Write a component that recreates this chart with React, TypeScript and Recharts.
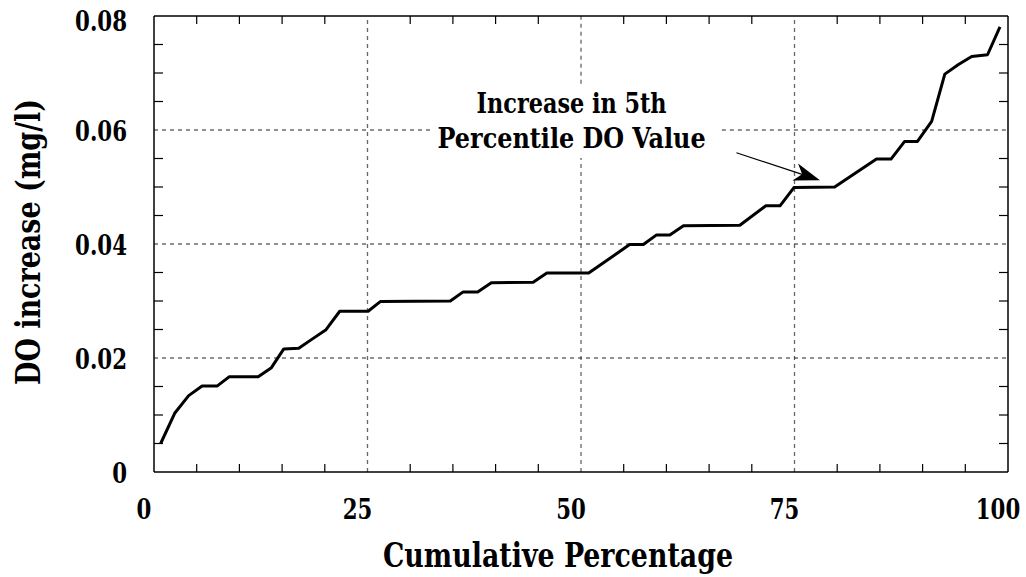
import React from "react";
import {
  LineChart,
  Line,
  XAxis,
  YAxis,
  ReferenceLine,
  ReferenceDot,
} from "recharts";

// ---- data ----
const cumulativePct = [
  0.78, 2.42, 4.06, 5.63, 7.42, 8.79, 12.2, 13.75, 15.2, 16.95, 18.6, 20.1,
  21.75, 25.07, 26.5, 34.7, 36.2, 37.9, 39.5, 44.4, 46.0, 50.9, 55.7, 57.3,
  58.85, 60.4, 62.0, 68.6, 71.65, 73.3, 74.93, 79.7, 84.6, 86.3, 87.9, 89.4,
  91.06, 92.6, 94.2, 95.75, 97.6, 99.06,
];
const doIncrease = [
  0.005, 0.0103, 0.0134, 0.0151, 0.0151, 0.0167, 0.0167, 0.0183, 0.0216,
  0.0217, 0.0234, 0.0249, 0.0282, 0.0282, 0.0299, 0.03, 0.0316, 0.0316,
  0.0332, 0.0333, 0.0349, 0.0349, 0.0399, 0.0399, 0.0416, 0.0416, 0.0432,
  0.0433, 0.0467, 0.0467, 0.0499, 0.05, 0.0549, 0.0549, 0.058, 0.058, 0.0615,
  0.0698, 0.0715, 0.0729, 0.0732, 0.0781,
];

const xTicks = [0, 5, 10, 15, 20, 25, 30, 35, 40, 45, 50, 55, 60, 65, 70, 75, 80, 85, 90, 95, 100];
const yTicks = [
  0, 0.005, 0.01, 0.015, 0.02, 0.025, 0.03, 0.035, 0.04, 0.045, 0.05, 0.055,
  0.06, 0.065, 0.07, 0.075, 0.08,
];
const xTickLabels = [0, 25, 50, 75, 100];
const yTickLabels = [0, 0.02, 0.04, 0.06, 0.08];
const xGrid = [25, 75];
const yGrid = [0.02, 0.04];

const xTitle = "Cumulative Percentage";
const yTitle = "DO increase (mg/l)";
const noteLines = ["Increase in 5th", "Percentile DO Value"];

const chartData = cumulativePct.map((p, i) => ({ pct: p, value: doIncrease[i] }));

const SERIF = "'DejaVu Serif Condensed', 'DejaVu Serif', serif";
const near = (a: number, list: number[]) => list.some((v) => Math.abs(v - a) < 1e-9);
const numWidth = (s: string) =>
  s.split("").reduce((w, c) => w + (c === "." ? 7.5 : 14.8), 0);

const SText = (p: any) => {
  const { x, y, fs, len, anchor, children, transform } = p;
  return (
    <text
      x={x}
      y={y}
      transform={transform}
      textAnchor={anchor || "middle"}
      fontFamily={SERIF}
      fontWeight="bold"
      fontSize={fs}
      textLength={len}
      lengthAdjust="spacingAndGlyphs"
      fill="#000"
    >
      {children}
    </text>
  );
};

const BottomTick = (props: any) => {
  const { x, y, payload } = props;
  const v = payload.value;
  const edge = v === 0 || v === 100;
  const s = String(v);
  return (
    <g>
      {!edge && !near(v, xGrid) && v !== 50 && (
        <line x1={x} y1={y} x2={x} y2={y - 8} stroke="#000" strokeWidth={1.2} />
      )}
      {near(v, xTickLabels) && (
        <SText x={x - 10} y={y + 47} fs={27.5} len={numWidth(s)}>
          {s}
        </SText>
      )}
    </g>
  );
};

const TopTick = (props: any) => {
  const { x, y, payload } = props;
  const v = payload.value;
  if (v === 0 || v === 100 || near(v, xGrid) || v === 50) return <g />;
  return <line x1={x} y1={y} x2={x} y2={y + 8} stroke="#000" strokeWidth={1.2} />;
};

const LeftTick = (props: any) => {
  const { x, y, payload } = props;
  const v = payload.value;
  const edge = v === 0 || Math.abs(v - 0.08) < 1e-9;
  const lbl = near(v, yTickLabels);
  const s = v === 0 ? "0" : v.toFixed(2);
  return (
    <g>
      {!edge && !lbl && (
        <line x1={x} y1={y} x2={x + 9} y2={y} stroke="#000" strokeWidth={1.2} />
      )}
      {lbl && (
        <SText x={x - 27} y={Math.max(y + 11, 31)} fs={27.5} len={numWidth(s)} anchor="end">
          {s}
        </SText>
      )}
    </g>
  );
};

const RightTick = (props: any) => {
  const { x, y, payload } = props;
  const v = payload.value;
  if (v === 0 || Math.abs(v - 0.08) < 1e-9 || near(v, yTickLabels)) return <g />;
  return <line x1={x} y1={y} x2={x - 9} y2={y} stroke="#000" strokeWidth={1.2} />;
};

const XTitle = (props: any) => {
  const vb = props.viewBox || {};
  return (
    <SText x={vb.x + vb.width / 2 - 23} y={vb.y + 95} fs={33} len={350}>
      {xTitle}
    </SText>
  );
};

const YTitle = (props: any) => {
  const vb = props.viewBox || {};
  const cx = 40;
  const cy = vb.y + vb.height / 2 - 2;
  return (
    <SText x={cx} y={cy} fs={33} len={286} transform={`rotate(-90 ${cx} ${cy})`}>
      {yTitle}
    </SText>
  );
};

const noteWidths = [190, 268];
const NoteLabel = (props: any) => {
  const vb = props.viewBox || {};
  const cx = vb.x + (vb.width || 0) / 2;
  const cy = vb.y + (vb.height || 0) / 2;
  return (
    <g>
      {noteLines.map((t, i) => (
        <SText key={t} x={cx} y={cy - 17 + i * 35} fs={27.5} len={noteWidths[i]}>
          {t}
        </SText>
      ))}
    </g>
  );
};

const ArrowShape = (props: any) => {
  const { x1, y1, x2, y2 } = props;
  const dx = x2 - x1;
  const dy = y2 - y1;
  const len = Math.sqrt(dx * dx + dy * dy) || 1;
  const ux = dx / len;
  const uy = dy / len;
  const nx = -uy;
  const ny = ux;
  const L = 26;
  const W = 9;
  const bx = x2 - L * ux;
  const by = y2 - L * uy;
  const kx = x2 - 0.72 * L * ux;
  const ky = y2 - 0.72 * L * uy;
  const pts = `${x2},${y2} ${bx + W * nx},${by + W * ny} ${kx},${ky} ${bx - W * nx},${by - W * ny}`;
  return (
    <g>
      <line x1={x1} y1={y1} x2={kx} y2={ky} stroke="#000" strokeWidth={1.2} />
      <polygon points={pts} fill="#000" stroke="none" />
    </g>
  );
};

const gridDash = "4 4";

export default function App() {
  return (
    <div style={{ position: "absolute", left: 0, top: 0, width: 1026, height: 577, background: "#fff" }}>
      <LineChart
        width={1026}
        height={577}
        data={chartData}
        margin={{ top: 15, right: 17, bottom: 0, left: 0 }}
      >
        <XAxis
          dataKey="pct"
          type="number"
          domain={[0, 100]}
          ticks={xTicks}
          interval={0}
          height={105}
          tickSize={0}
          tickMargin={0}
          tick={<BottomTick />}
          axisLine={{ stroke: "#000", strokeWidth: 1.5 }}
          label={<XTitle />}
        />
        <XAxis
          xAxisId="top"
          dataKey="pct"
          orientation="top"
          type="number"
          domain={[0, 100]}
          ticks={xTicks}
          interval={0}
          height={1}
          tickSize={0}
          tickMargin={0}
          tick={<TopTick />}
          axisLine={{ stroke: "#000", strokeWidth: 1.5 }}
        />
        <YAxis
          type="number"
          domain={[0, 0.08]}
          ticks={yTicks}
          interval={0}
          width={154}
          tickSize={0}
          tickMargin={0}
          tick={<LeftTick />}
          axisLine={{ stroke: "#000", strokeWidth: 1.5 }}
          label={<YTitle />}
        />
        <YAxis
          yAxisId="right"
          orientation="right"
          type="number"
          domain={[0, 0.08]}
          ticks={yTicks}
          interval={0}
          width={1}
          tickSize={0}
          tickMargin={0}
          tick={<RightTick />}
          axisLine={{ stroke: "#000", strokeWidth: 1.5 }}
        />
        {xGrid.map((v) => (
          <ReferenceLine key={"gx" + v} x={v} stroke="#666" strokeWidth={1.3} strokeDasharray={gridDash} />
        ))}
        <ReferenceLine
          segment={[{ x: 50, y: 0 }, { x: 50, y: 0.0551 }]}
          stroke="#666"
          strokeWidth={1.3}
          strokeDasharray={gridDash}
        />
        <ReferenceLine
          segment={[{ x: 50, y: 0.0681 }, { x: 50, y: 0.08 }]}
          stroke="#666"
          strokeWidth={1.3}
          strokeDasharray={gridDash}
        />
        {yGrid.map((v) => (
          <ReferenceLine key={"gy" + v} y={v} stroke="#222" strokeWidth={1} strokeDasharray={gridDash} />
        ))}
        <ReferenceLine
          segment={[{ x: 0, y: 0.06 }, { x: 32.65, y: 0.06 }]}
          stroke="#222"
          strokeWidth={1}
          strokeDasharray={gridDash}
        />
        <ReferenceLine
          segment={[{ x: 66.5, y: 0.06 }, { x: 100, y: 0.06 }]}
          stroke="#222"
          strokeWidth={1}
          strokeDasharray={gridDash}
        />
        <ReferenceDot x={48.9} y={0.06} r={0} fill="none" stroke="none" label={<NoteLabel />} />
        <ReferenceLine
          segment={[{ x: 68.2, y: 0.056 }, { x: 77.98, y: 0.0512 }]}
          stroke="#000"
          shape={(p: any) => <ArrowShape {...p} />}
        />
        <Line
          xAxisId="top"
          yAxisId="right"
          type="linear"
          dataKey="value"
          stroke="none"
          strokeWidth={0}
          dot={false}
          activeDot={false}
          legendType="none"
          isAnimationActive={false}
        />
        <Line
          type="linear"
          dataKey="value"
          stroke="#000"
          strokeWidth={3}
          dot={false}
          strokeLinejoin="round"
          isAnimationActive={false}
        />
      </LineChart>
    </div>
  );
}
